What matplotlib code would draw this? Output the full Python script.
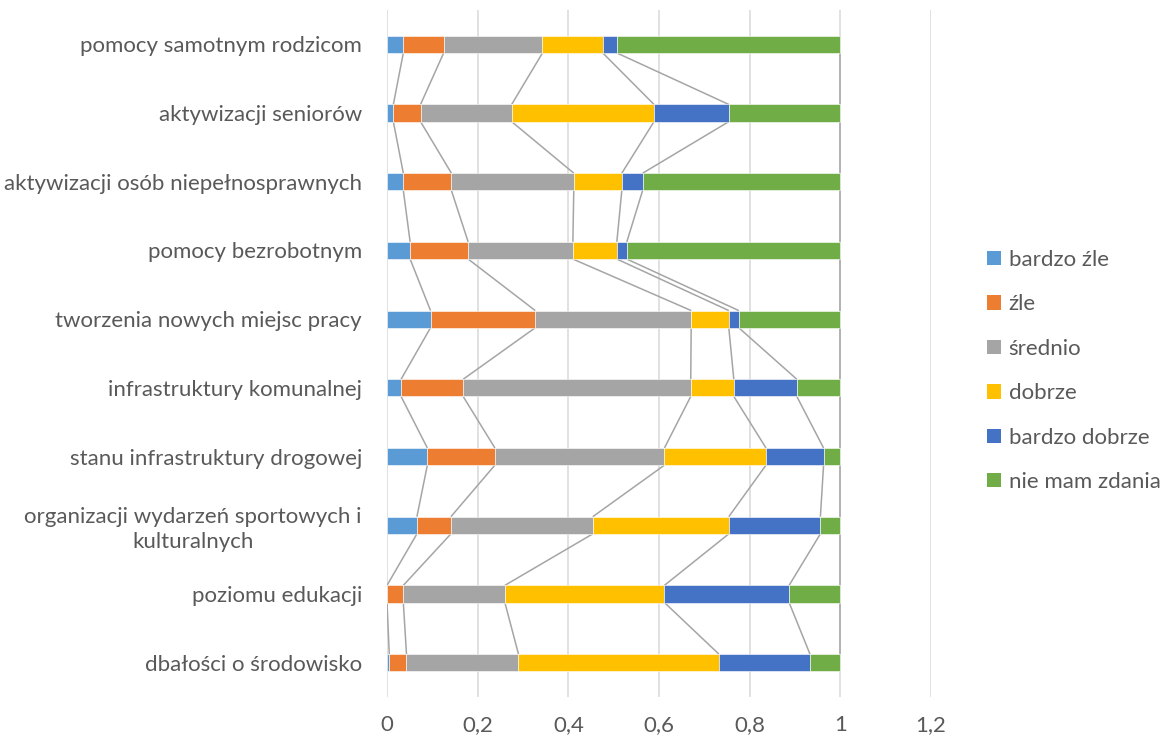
import matplotlib
matplotlib.use("Agg")
import matplotlib.pyplot as plt
import matplotlib.ticker as ticker
from matplotlib.patches import Patch
import numpy as np

plt.rcParams['font.family'] = ['Lato', 'DejaVu Sans']

categories = ["pomocy samotnym rodzicom",
              "aktywizacji seniorów",
              "aktywizacji osób niepełnosprawnych",
              "pomocy bezrobotnym",
              "tworzenia nowych miejsc pracy",
              "infrastruktury komunalnej",
              "stanu infrastruktury drogowej",
              "organizacji wydarzeń sportowych i\nkulturalnych",
              "poziomu edukacji",
              "dbałości o środowisko"]

series_names = ["bardzo źle", "źle", "średnio", "dobrze", "bardzo dobrze", "nie mam zdania"]
bardzo_zle    = [0.036, 0.014, 0.036, 0.051, 0.096, 0.031, 0.089, 0.066, 0.000, 0.005]
zle           = [0.089, 0.060, 0.106, 0.128, 0.231, 0.137, 0.149, 0.075, 0.036, 0.038]
srednio       = [0.218, 0.201, 0.270, 0.231, 0.344, 0.502, 0.374, 0.313, 0.224, 0.247]
dobrze        = [0.133, 0.314, 0.106, 0.097, 0.083, 0.095, 0.224, 0.300, 0.352, 0.442]
bardzo_dobrze = [0.031, 0.165, 0.046, 0.022, 0.022, 0.139, 0.127, 0.202, 0.275, 0.201]
nie_mam       = [0.493, 0.246, 0.436, 0.471, 0.224, 0.096, 0.037, 0.044, 0.113, 0.067]

xticks = [0, 0.2, 0.4, 0.6, 0.8, 1.0, 1.2]

colors = ['#5B9BD5', '#ED7D31', '#A5A5A5', '#FFC000', '#4472C4', '#70AD47']
txtcol = '#595959'

data = np.array([bardzo_zle, zle, srednio, dobrze, bardzo_dobrze, nie_mam])
ypos = np.arange(len(categories))
barh = 0.25

fig = plt.figure(figsize=(11.64, 7.4), dpi=100)
ax = fig.add_axes([387/1164, 1-697/740, 544/1164, 687/740])

left = np.zeros(len(categories))
for i in range(len(series_names)):
    ax.barh(ypos, data[i], left=left, height=barh, color=colors[i],
            edgecolor='white', linewidth=0.4, zorder=3)
    left = left + data[i]

# series lines between bars
cum = np.cumsum(data, axis=0)
for k in range(cum.shape[0]):
    for j in range(len(categories)-1):
        ax.plot([cum[k, j], cum[k, j+1]], [ypos[j]+barh/2, ypos[j+1]-barh/2],
                color='#A5A5A5', lw=1.1, zorder=2, solid_capstyle='butt')

ax.set_xlim(0, 1.2)
ax.set_ylim(len(categories)-0.5, -0.5)
ax.set_xticks(xticks)
ax.xaxis.set_major_formatter(ticker.FuncFormatter(
    lambda v, p: ("%g" % v).replace('.', ',')))
ax.set_yticks(ypos)
ax.set_yticklabels(categories, multialignment='center', linespacing=1.3)
ax.grid(axis='x', color='#D9D9D9', lw=1.1, zorder=0)
for s in ax.spines.values():
    s.set_visible(False)
ax.tick_params(axis='both', length=0, labelsize=16, colors=txtcol)
ax.tick_params(axis='x', pad=13)
ax.tick_params(axis='y', pad=18)

handles = [Patch(facecolor=c) for c in colors]
fig.legend(handles, series_names, loc='center left',
           bbox_to_anchor=(987/1164, 1-371/740), frameon=False,
           fontsize=16, labelcolor=txtcol, handlelength=0.62, handleheight=0.62,
           handletextpad=0.35, labelspacing=1.1, borderaxespad=0, borderpad=0)

fig.savefig("out.png", dpi=100)
